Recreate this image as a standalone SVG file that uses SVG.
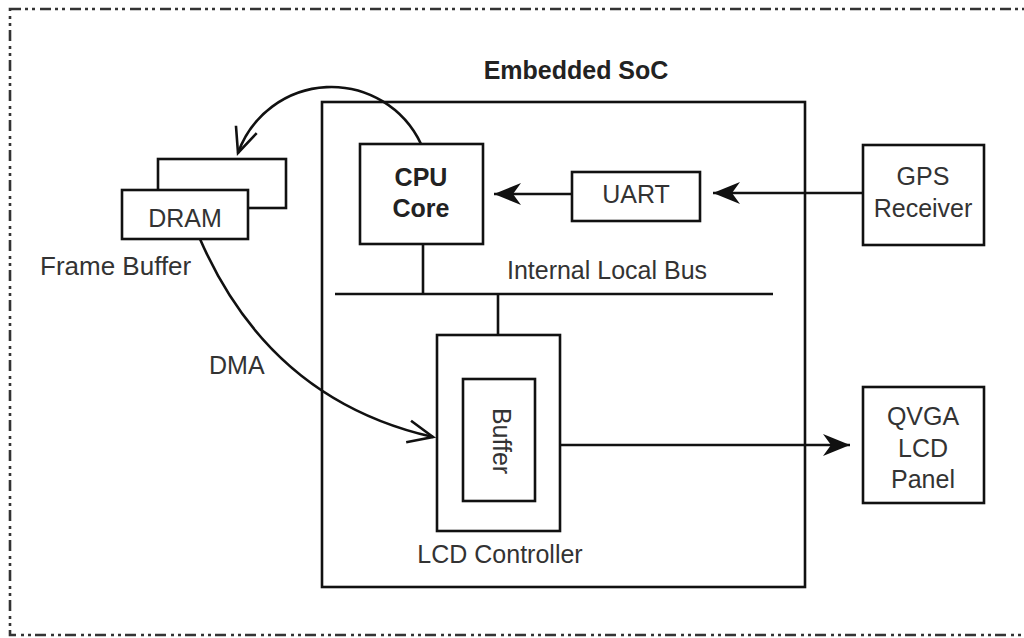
<svg xmlns="http://www.w3.org/2000/svg" width="1024" height="638" viewBox="0 0 1024 638">
<style>
.box{fill:#fff;stroke:#111;stroke-width:2.6}
.ln{fill:none;stroke:#111;stroke-width:2.6}
.t{font-family:"Liberation Sans",Arial,sans-serif;font-size:25px;fill:#333}
.tb{font-family:"Liberation Sans",Arial,sans-serif;font-size:25px;font-weight:bold;fill:#222}
.c{text-anchor:middle}
</style>
<defs>
<marker id="fill" markerUnits="userSpaceOnUse" markerWidth="30" markerHeight="26" viewBox="-28 -13 30 26" refX="0" refY="0" orient="auto" overflow="visible">
<path d="M0,0 L-27,-11 L-19,0 L-27,11 Z" fill="#111"/>
</marker>
<marker id="open" markerUnits="userSpaceOnUse" markerWidth="30" markerHeight="26" viewBox="-28 -13 30 26" refX="0" refY="0" orient="auto" overflow="visible">
<path d="M-25,-11 L0,0 L-25,11" fill="none" stroke="#111" stroke-width="2.6"/>
</marker>
</defs>
<rect x="0" y="0" width="1024" height="638" fill="#fff"/>
<rect id="frame" x="10" y="9" width="1040" height="626" fill="none" stroke="#333" stroke-width="2.6" stroke-dasharray="11 4 3 4 3 5"/>
<g id="soc">
<rect class="box" x="322" y="102" width="483" height="485"/>
<text class="tb c" x="576" y="79">Embedded SoC</text>
</g>
<g id="connectors">
<line class="ln" x1="335" y1="294" x2="773" y2="294"/>
<line class="ln" x1="423" y1="244" x2="423" y2="294"/>
<line class="ln" x1="498" y1="294" x2="498" y2="335"/>
<line class="ln" x1="572" y1="194" x2="494" y2="194" marker-end="url(#fill)"/>
<line class="ln" x1="863" y1="193" x2="713" y2="193" marker-end="url(#fill)"/>
<line class="ln" x1="560" y1="445" x2="850" y2="445" marker-end="url(#fill)"/>
<path class="ln" d="M421,144 A99,99 0 0 0 238,153" marker-end="url(#open)"/>
<path class="ln" d="M200,239 Q270,400 433,437" marker-end="url(#open)"/>
</g>
<text id="bus-label" class="t c" x="607" y="279">Internal Local Bus</text>
<text id="dma-label" class="t" x="209" y="374">DMA</text>
<g id="cpu">
<rect class="box" x="360" y="144" width="123" height="100"/>
<text class="tb c" x="421" y="186">CPU</text>
<text class="tb c" x="421" y="217">Core</text>
</g>
<g id="uart">
<rect class="box" x="572" y="172" width="128" height="49"/>
<text class="t c" x="636" y="203">UART</text>
</g>
<g id="gps">
<rect class="box" x="863" y="145" width="121" height="100"/>
<text class="t c" x="923" y="185">GPS</text>
<text class="t c" x="923" y="217">Receiver</text>
</g>
<g id="dram">
<rect class="box" x="158" y="159" width="128" height="49"/>
<rect class="box" x="122" y="190" width="126" height="49"/>
<text class="t c" x="185" y="227">DRAM</text>
<text class="t" x="40" y="275" style="font-size:26px">Frame Buffer</text>
</g>
<g id="lcd">
<rect class="box" x="437" y="335" width="123" height="196"/>
<rect class="box" x="463" y="379" width="72" height="122"/>
<text class="t c" transform="translate(493,441) rotate(90)">Buffer</text>
<text class="t c" x="500" y="563">LCD Controller</text>
</g>
<g id="qvga">
<rect class="box" x="863" y="387" width="121" height="116"/>
<text class="t c" x="923" y="425">QVGA</text>
<text class="t c" x="923" y="457">LCD</text>
<text class="t c" x="923" y="488">Panel</text>
</g>
</svg>
